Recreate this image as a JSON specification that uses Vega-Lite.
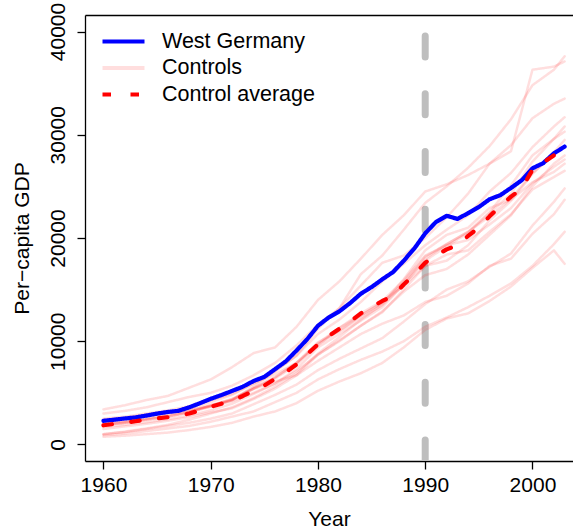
{
  "$schema": "https://vega.github.io/schema/vega-lite/v6.json",
  "width": 488,
  "height": 446,
  "autosize": {"type": "none"},
  "padding": {"left": 85, "top": 15, "right": 0, "bottom": 70},
  "background": "white",
  "config": {
    "font": "Liberation Sans",
    "view": {"stroke": null},
    "axis": {
      "domainColor": "black", "domainWidth": 1.3, "tickColor": "black", "tickWidth": 1.3, "tickSize": 8,
      "labelFont": "Liberation Sans", "labelFontSize": 21, "labelColor": "black",
      "titleFont": "Liberation Sans", "titleFontSize": 21, "titleFontWeight": "normal", "titleColor": "black",
      "grid": false
    }
  },
  "datasets": {
    "controls": [
      {"series":"Controls","year":1960,"SWI":3400,"USA":3000,"NOR":2000,"DEN":2100,"AUT":1700,"NET":1900,"BEL":1900,"FRA":1900,"ITA":1500,"AUS":2500,"JPN":1000,"UK":2300,"NZL":2400,"ESP":1000,"GRC":900,"PRT":750},
      {"series":"Controls","year":1962,"SWI":3800,"USA":3250,"NOR":2200,"DEN":2350,"AUT":1900,"NET":2100,"BEL":2100,"FRA":2150,"ITA":1750,"AUS":2700,"JPN":1250,"UK":2500,"NZL":2600,"ESP":1200,"GRC":1050,"PRT":850},
      {"series":"Controls","year":1964,"SWI":4300,"USA":3600,"NOR":2500,"DEN":2700,"AUT":2150,"NET":2400,"BEL":2400,"FRA":2450,"ITA":2000,"AUS":3000,"JPN":1550,"UK":2800,"NZL":2900,"ESP":1500,"GRC":1300,"PRT":1000},
      {"series":"Controls","year":1966,"SWI":4700,"USA":4100,"NOR":2900,"DEN":3100,"AUT":2450,"NET":2700,"BEL":2700,"FRA":2750,"ITA":2300,"AUS":3300,"JPN":1900,"UK":3050,"NZL":3200,"ESP":1800,"GRC":1550,"PRT":1150},
      {"series":"Controls","year":1968,"SWI":5500,"USA":4600,"NOR":3200,"DEN":3500,"AUT":2800,"NET":3100,"BEL":3100,"FRA":3150,"ITA":2650,"AUS":3700,"JPN":2400,"UK":3350,"NZL":3300,"ESP":2100,"GRC":1800,"PRT":1400},
      {"series":"Controls","year":1970,"SWI":6300,"USA":5000,"NOR":3700,"DEN":4100,"AUT":3300,"NET":3800,"BEL":3650,"FRA":3750,"ITA":3100,"AUS":4300,"JPN":3000,"UK":3700,"NZL":3800,"ESP":2500,"GRC":2200,"PRT":1700},
      {"series":"Controls","year":1972,"SWI":7500,"USA":5700,"NOR":4300,"DEN":4800,"AUT":3950,"NET":4400,"BEL":4300,"FRA":4400,"ITA":3500,"AUS":4900,"JPN":3600,"UK":4200,"NZL":4300,"ESP":3000,"GRC":2700,"PRT":2100},
      {"series":"Controls","year":1974,"SWI":8850,"USA":6700,"NOR":5600,"DEN":5900,"AUT":4900,"NET":5500,"BEL":5400,"FRA":5400,"ITA":4400,"AUS":5900,"JPN":4500,"UK":5000,"NZL":5400,"ESP":3900,"GRC":3200,"PRT":2700},
      {"series":"Controls","year":1976,"SWI":9400,"USA":7900,"NOR":7100,"DEN":7100,"AUT":5900,"NET":6500,"BEL":6400,"FRA":6500,"ITA":5400,"AUS":6800,"JPN":5600,"UK":5900,"NZL":6100,"ESP":4800,"GRC":4100,"PRT":3200},
      {"series":"Controls","year":1978,"SWI":11400,"USA":9600,"NOR":8600,"DEN":8600,"AUT":7300,"NET":7900,"BEL":7700,"FRA":7900,"ITA":6700,"AUS":7900,"JPN":6900,"UK":7100,"NZL":6700,"ESP":5800,"GRC":5000,"PRT":4000},
      {"series":"Controls","year":1980,"SWI":14000,"USA":11600,"NOR":11200,"DEN":10700,"AUT":9400,"NET":9900,"BEL":9700,"FRA":9800,"ITA":8700,"AUS":9600,"JPN":8800,"UK":8700,"NZL":8100,"ESP":7200,"GRC":6300,"PRT":5200},
      {"series":"Controls","year":1982,"SWI":15800,"USA":13200,"NOR":13200,"DEN":12100,"AUT":10700,"NET":11000,"BEL":11000,"FRA":11300,"ITA":10100,"AUS":11300,"JPN":10400,"UK":10000,"NZL":9400,"ESP":8300,"GRC":7300,"PRT":6100},
      {"series":"Controls","year":1984,"SWI":18000,"USA":16500,"NOR":15400,"DEN":13800,"AUT":12000,"NET":12500,"BEL":12300,"FRA":12700,"ITA":11500,"AUS":12500,"JPN":12100,"UK":11500,"NZL":10700,"ESP":9300,"GRC":8200,"PRT":6900},
      {"series":"Controls","year":1986,"SWI":20300,"USA":18300,"NOR":17600,"DEN":15800,"AUT":13300,"NET":13700,"BEL":13500,"FRA":13900,"ITA":12800,"AUS":13800,"JPN":13600,"UK":12900,"NZL":11700,"ESP":10300,"GRC":9000,"PRT":7900},
      {"series":"Controls","year":1988,"SWI":22200,"USA":20800,"NOR":18300,"DEN":17500,"AUT":15500,"NET":15700,"BEL":15500,"FRA":15900,"ITA":15000,"AUS":15400,"JPN":16000,"UK":14800,"NZL":12500,"ESP":11900,"GRC":10000,"PRT":9400},
      {"series":"Controls","year":1990,"SWI":24500,"USA":23400,"NOR":20000,"DEN":19300,"AUT":17800,"NET":18200,"BEL":18000,"FRA":18300,"ITA":17300,"AUS":17300,"JPN":18800,"UK":16400,"NZL":13800,"ESP":13600,"GRC":11400,"PRT":11100},
      {"series":"Controls","year":1992,"SWI":25200,"USA":25000,"NOR":22000,"DEN":20800,"AUT":19200,"NET":19400,"BEL":19400,"FRA":19300,"ITA":18400,"AUS":17800,"JPN":20300,"UK":17000,"NZL":14400,"ESP":15000,"GRC":12300,"PRT":12200},
      {"series":"Controls","year":1994,"SWI":26100,"USA":26800,"NOR":24300,"DEN":22200,"AUT":20500,"NET":20600,"BEL":20600,"FRA":19800,"ITA":18800,"AUS":19300,"JPN":21000,"UK":18400,"NZL":15600,"ESP":15800,"GRC":13300,"PRT":12700},
      {"series":"Controls","year":1996,"SWI":27200,"USA":28900,"NOR":27200,"DEN":24500,"AUT":22400,"NET":22500,"BEL":22100,"FRA":21300,"ITA":20600,"AUS":21700,"JPN":22900,"UK":20300,"NZL":17300,"ESP":17200,"GRC":14400,"PRT":13900},
      {"series":"Controls","year":1998,"SWI":29000,"USA":31500,"NOR":28400,"DEN":26300,"AUT":24300,"NET":25100,"BEL":23800,"FRA":22900,"ITA":22300,"AUS":23600,"JPN":23700,"UK":22200,"NZL":18000,"ESP":18500,"GRC":15600,"PRT":15300},
      {"series":"Controls","year":2000,"SWI":31600,"USA":34800,"NOR":36300,"DEN":28800,"AUT":27400,"NET":28000,"BEL":26300,"FRA":25300,"ITA":24700,"AUS":26200,"JPN":25400,"UK":25000,"NZL":20400,"ESP":21200,"GRC":17300,"PRT":17100},
      {"series":"Controls","year":2002,"SWI":33000,"USA":36300,"NOR":36600,"DEN":30800,"AUT":29600,"NET":29600,"BEL":28000,"FRA":26900,"ITA":25900,"AUS":28300,"JPN":26400,"UK":27200,"NZL":22300,"ESP":23500,"GRC":19400,"PRT":18800},
      {"series":"Controls","year":2003,"SWI":33500,"USA":37600,"NOR":37100,"DEN":31700,"AUT":30800,"NET":30300,"BEL":28800,"FRA":27600,"ITA":26500,"AUS":29500,"JPN":27200,"UK":28000,"NZL":23700,"ESP":24800,"GRC":20600,"PRT":17500}
    ],
    "main": [
      {"year":1960,"West Germany":2290,"Control average":1860},
      {"year":1961,"West Germany":2400,"Control average":1990},
      {"year":1962,"West Germany":2520,"Control average":2120},
      {"year":1963,"West Germany":2620,"Control average":2250},
      {"year":1964,"West Germany":2800,"Control average":2400},
      {"year":1965,"West Germany":2990,"Control average":2530},
      {"year":1966,"West Germany":3150,"Control average":2640},
      {"year":1967,"West Germany":3260,"Control average":2780},
      {"year":1968,"West Germany":3600,"Control average":3000},
      {"year":1969,"West Germany":4000,"Control average":3300},
      {"year":1970,"West Germany":4420,"Control average":3650},
      {"year":1971,"West Germany":4790,"Control average":3950},
      {"year":1972,"West Germany":5190,"Control average":4250},
      {"year":1973,"West Germany":5600,"Control average":4700},
      {"year":1974,"West Germany":6150,"Control average":5200},
      {"year":1975,"West Germany":6550,"Control average":5700},
      {"year":1976,"West Germany":7300,"Control average":6350},
      {"year":1977,"West Germany":8050,"Control average":7000},
      {"year":1978,"West Germany":9100,"Control average":7750},
      {"year":1979,"West Germany":10200,"Control average":8750},
      {"year":1980,"West Germany":11500,"Control average":9700},
      {"year":1981,"West Germany":12300,"Control average":10500},
      {"year":1982,"West Germany":12900,"Control average":11200},
      {"year":1983,"West Germany":13700,"Control average":11900},
      {"year":1984,"West Germany":14600,"Control average":12700},
      {"year":1985,"West Germany":15250,"Control average":13300},
      {"year":1986,"West Germany":16000,"Control average":13900},
      {"year":1987,"West Germany":16700,"Control average":14400},
      {"year":1988,"West Germany":17800,"Control average":15500},
      {"year":1989,"West Germany":19000,"Control average":16500},
      {"year":1990,"West Germany":20450,"Control average":17600},
      {"year":1991,"West Germany":21550,"Control average":18300},
      {"year":1992,"West Germany":22150,"Control average":18900},
      {"year":1993,"West Germany":21850,"Control average":19300},
      {"year":1994,"West Germany":22400,"Control average":20200},
      {"year":1995,"West Germany":23000,"Control average":21000},
      {"year":1996,"West Germany":23750,"Control average":22100},
      {"year":1997,"West Germany":24150,"Control average":23100},
      {"year":1998,"West Germany":24850,"Control average":24000},
      {"year":1999,"West Germany":25600,"Control average":24800},
      {"year":2000,"West Germany":26750,"Control average":26600},
      {"year":2001,"West Germany":27250,"Control average":27300},
      {"year":2002,"West Germany":28200,"Control average":28000},
      {"year":2003,"West Germany":28850,"Control average":28800}
    ],
    "treat": [{"year": 1990}]
  },
  "layer": [
    {
      "data": {"name": "treat"},
      "mark": {"type": "rule", "color": "#bebebe", "strokeWidth": 7, "strokeDash": [21, 36.7], "strokeCap": "round", "clip": true},
      "encoding": {
        "x": {"field": "year", "type": "quantitative", "scale": {"domain": [1958.28, 2003.78], "nice": false, "zero": false},
              "axis": {"orient": "top", "labels": false, "ticks": false, "title": null, "domain": true}},
        "y": {"datum": -1600, "type": "quantitative", "title": "Per\u2212capita GDP",
              "scale": {"domain": [-1600, 41600], "nice": false, "zero": false},
              "axis": {"orient": "left", "values": [0, 10000, 20000, 30000, 40000], "format": "d", "labelAngle": -90, "labelAlign": "center", "labelBaseline": "alphabetic", "labelPadding": 13, "titlePadding": 15}},
        "y2": {"datum": 41600}
      }
    },
    {
      "data": {"name": "controls"},
      "transform": [{"fold": ["SWI","USA","NOR","DEN","AUT","NET","BEL","FRA","ITA","AUS","JPN","UK","NZL","ESP","GRC","PRT"], "as": ["country", "gdp"]}],
      "mark": {"type": "line", "strokeCap": "round", "strokeJoin": "round", "strokeWidth": 2.5},
      "encoding": {
        "x": {"field": "year", "type": "quantitative", "title": "Year",
              "axis": {"orient": "bottom", "values": [1960, 1970, 1980, 1990, 2000], "format": "d", "labelPadding": 5, "titlePadding": 13}},
        "y": {"field": "gdp", "type": "quantitative", "title": "Per\u2212capita GDP",
              "axis": {"orient": "left", "values": [0, 10000, 20000, 30000, 40000], "format": "d", "labelAngle": -90, "labelAlign": "center", "labelBaseline": "alphabetic", "labelPadding": 13, "titlePadding": 15}},
        "detail": {"field": "country"},
        "color": {"field": "series", "type": "nominal",
                  "scale": {"domain": ["West Germany", "Controls", "Control average"], "range": ["#0000ff", "rgba(255,0,0,0.13)", "#ff0000"]},
                  "legend": {"title": null, "orient": "none", "legendX": 26, "legendY": 14, "symbolType": "M-2.1,0H2.1", "symbolSize": 400, "symbolStrokeWidth": 4.2, "labelOffset": 26, "labelFontSize": 21.5, "labelFont": "Liberation Sans", "labelColor": "black", "labelLimit": 300, "rowPadding": 3.5, "padding": 0}},
        "strokeDash": {"field": "series", "type": "nominal", "scale": {"domain": ["West Germany", "Controls", "Control average"], "range": [[1, 0], [1, 0], [8.5, 19.5]]}}
      }
    },
    {
      "data": {"name": "main"},
      "transform": [{"fold": ["West Germany"], "as": ["series", "gdp"]}],
      "mark": {"type": "line", "strokeCap": "round", "strokeJoin": "round", "strokeWidth": 4.2},
      "encoding": {
        "x": {"field": "year", "type": "quantitative", "axis": null},
        "y": {"field": "gdp", "type": "quantitative", "title": "Per\u2212capita GDP",
              "axis": {"orient": "left", "values": [0, 10000, 20000, 30000, 40000], "format": "d", "labelAngle": -90, "labelAlign": "center", "labelBaseline": "alphabetic", "labelPadding": 13, "titlePadding": 15}},
        "color": {"field": "series", "type": "nominal"},
        "strokeDash": {"field": "series", "type": "nominal"}
      }
    },
    {
      "data": {"name": "main"},
      "transform": [{"fold": ["Control average"], "as": ["series", "gdp"]}],
      "mark": {"type": "line", "strokeCap": "round", "strokeJoin": "round", "strokeWidth": 4.2},
      "encoding": {
        "x": {"field": "year", "type": "quantitative", "axis": null},
        "y": {"field": "gdp", "type": "quantitative", "title": "Per\u2212capita GDP",
              "axis": {"orient": "left", "values": [0, 10000, 20000, 30000, 40000], "format": "d", "labelAngle": -90, "labelAlign": "center", "labelBaseline": "alphabetic", "labelPadding": 13, "titlePadding": 15}},
        "color": {"field": "series", "type": "nominal"},
        "strokeDash": {"field": "series", "type": "nominal"}
      }
    }
  ]
}
